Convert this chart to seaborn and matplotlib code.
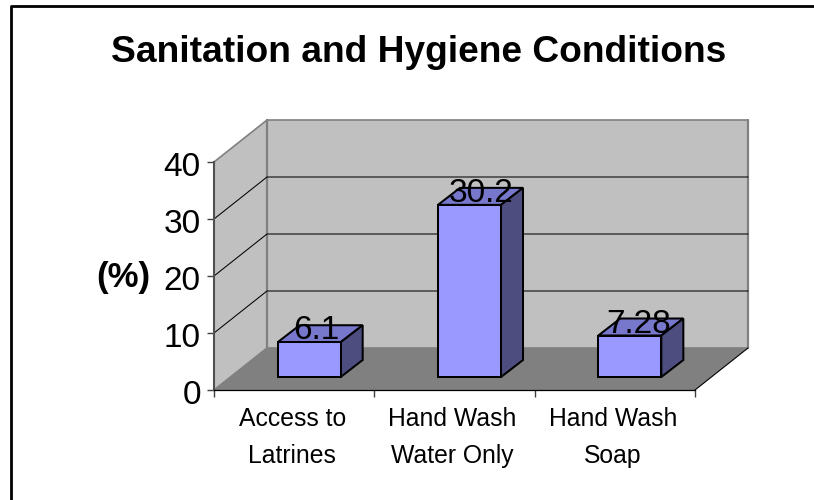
import matplotlib
matplotlib.use("Agg")
import matplotlib.pyplot as plt
import seaborn as sns
import pandas as pd
from matplotlib.patches import Polygon, Rectangle
from matplotlib.lines import Line2D
from matplotlib.transforms import ScaledTranslation, IdentityTransform

categories = ["Access to\nLatrines", "Hand Wash\nWater Only", "Hand Wash\nSoap"]
values = [6.1, 30.2, 7.28]
value_labels = ["6.1", "30.2", "7.28"]
y_ticks = [0, 10, 20, 30, 40]
title = "Sanitation and Hygiene Conditions"
ylabel = "(%)"

W, H = 814, 500
sns.set_theme(style="white")
plt.rcParams["font.family"] = ["Liberation Sans", "DejaVu Sans"]
fig = plt.figure(figsize=(W / 100, H / 100), dpi=100, facecolor="white")

# front plane of the 3D box, in pixels from top-left
L, R, T, B = 214, 695, 162, 390
ax = fig.add_axes([L / W, 1 - B / H, (R - L) / W, (B - T) / H], facecolor="none")
DX, DY = 53, 42          # wall depth (px)
BOX, BOY = 15, 13        # bar offset from the front plane
BDX, BDY = 22, 17        # bar depth
LABEL_SHIFT = [7, 12, 9] # value label offset from bar centre (px)

df = pd.DataFrame({"cat": categories, "val": values})
sns.barplot(data=df, x="cat", y="val", ax=ax, color="#9999FF", saturation=1,
            width=0.393, edgecolor="black", linewidth=1.45, zorder=5)
ax.set_xlim(-0.5, 2.5)
ax.set_ylim(0, 40)

def px(x, y):
    """figure pixel (top-left origin) -> display"""
    return (x, H - y)

idt = IdentityTransform()
def poly(pts, **kw):
    p = Polygon([px(*q) for q in pts], closed=True, transform=idt, clip_on=False, **kw)
    ax.add_patch(p)
    return p
def seg(pts, **kw):
    l = Line2D(*zip(*[px(*q) for q in pts]), transform=idt, clip_on=False, **kw)
    ax.add_line(l)
    return l

wall = "#C0C0C0"
edge = "#808080"
bars = [p for p in ax.patches if isinstance(p, Rectangle)]
poly([(L, B), (L + DX, B - DY), (L + DX, T - DY), (L, T)], fc=wall, ec=edge, lw=1.2, zorder=1)
poly([(L + DX, B - DY), (R + DX, B - DY), (R + DX, T - DY), (L + DX, T - DY)], fc=wall, ec=edge, lw=1.2, zorder=1)
poly([(L, B), (R, B), (R + DX, B - DY), (L + DX, B - DY)], fc="#808080", ec="none", zorder=1.5)
seg([(L + DX, T - DY), (L + DX, B - DY)], color=edge, lw=1.6, zorder=2)
seg([(R + DX, T - DY), (R + DX, B - DY)], color=edge, lw=1.6, zorder=2)
seg([(R, B), (R + DX, B - DY)], color="black", lw=0.8, zorder=2)

# gridlines along side wall and back wall, from the y scale
for t in y_ticks[1:-1]:
    yp = H - ax.transData.transform((0, t))[1]
    seg([(L, yp), (L + DX, yp - DY), (R + DX, yp - DY)], color="black", lw=0.75, zorder=2)

# shift bars onto the floor and add their 3D faces
shift = ScaledTranslation(BOX / 100, BOY / 100, fig.dpi_scale_trans)
for patch, lab, ls in zip(bars, value_labels, LABEL_SHIFT):
    patch.set_transform(ax.transData + shift)
    patch.set_clip_on(False)
    patch.set_joinstyle("miter")
    a = ax.transData.transform((patch.get_x(), 0))
    b = ax.transData.transform((patch.get_x() + patch.get_width(), patch.get_height()))
    x0, x1 = a[0] + BOX, b[0] + BOX
    y0, y1 = H - a[1] - BOY, H - b[1] - BOY
    poly([(x0, y1), (x1, y1), (x1 + BDX, y1 - BDY), (x0 + BDX, y1 - BDY)],
         fc="#7777CC", ec="black", lw=1.45, zorder=4, joinstyle="miter")
    poly([(x1, y0), (x1, y1), (x1 + BDX, y1 - BDY), (x1 + BDX, y0 - BDY)],
         fc="#4D4D80", ec="black", lw=1.45, zorder=4, joinstyle="miter")
    ax.text((x0 + x1) / 2 + ls, H - (y1 - 3), lab, transform=idt, ha="center", va="baseline",
            fontsize=24, color="black", zorder=6, clip_on=False)

sns.despine(ax=ax, top=True, right=True)
ax.spines["left"].set_color("#505050")
ax.spines["left"].set_linewidth(1.5)
ax.spines["bottom"].set_color("black")
ax.spines["bottom"].set_linewidth(0.9)
ax.set_zorder(3)
ax.set_yticks(y_ticks)
ax.set_xticks([-0.5, 0.5, 1.5, 2.5])
ax.set_xticklabels([])
ax.tick_params(axis="both", length=5, width=1, color="#404040", left=True, bottom=True, direction="out")
ax.tick_params(axis="y", labelsize=24, labelcolor="black", pad=4.5)
tick_drop = ScaledTranslation(0, -2 / 100, fig.dpi_scale_trans)
for lbl in ax.get_yticklabels():
    lbl.set_transform(lbl.get_transform() + tick_drop)
ax.set_xlabel("")
ax.set_ylabel("")
for i, c in enumerate(categories):
    ax.annotate(c, (i, 0), xytext=(-2, -17), textcoords="offset pixels", xycoords=("data", "data"),
                ha="center", va="top", fontsize=17.8, color="black", linespacing=1.7, annotation_clip=False)

fig.text(123.5 / W, 1 - 278 / H, ylabel, ha="center", va="center", fontsize=25, fontweight="bold", color="black")
fig.text(419 / W, 1 - 62 / H, title, ha="center", va="baseline", fontsize=26.75, fontweight="bold", color="black")

# chart-area border: only top and left fall inside the crop
fig.add_artist(Line2D([10.5 / W, 10.5 / W, 1], [0, 1 - 6 / H, 1 - 6 / H], color="black", lw=2, transform=fig.transFigure))

fig.savefig("out.png", dpi=100, facecolor="white")
